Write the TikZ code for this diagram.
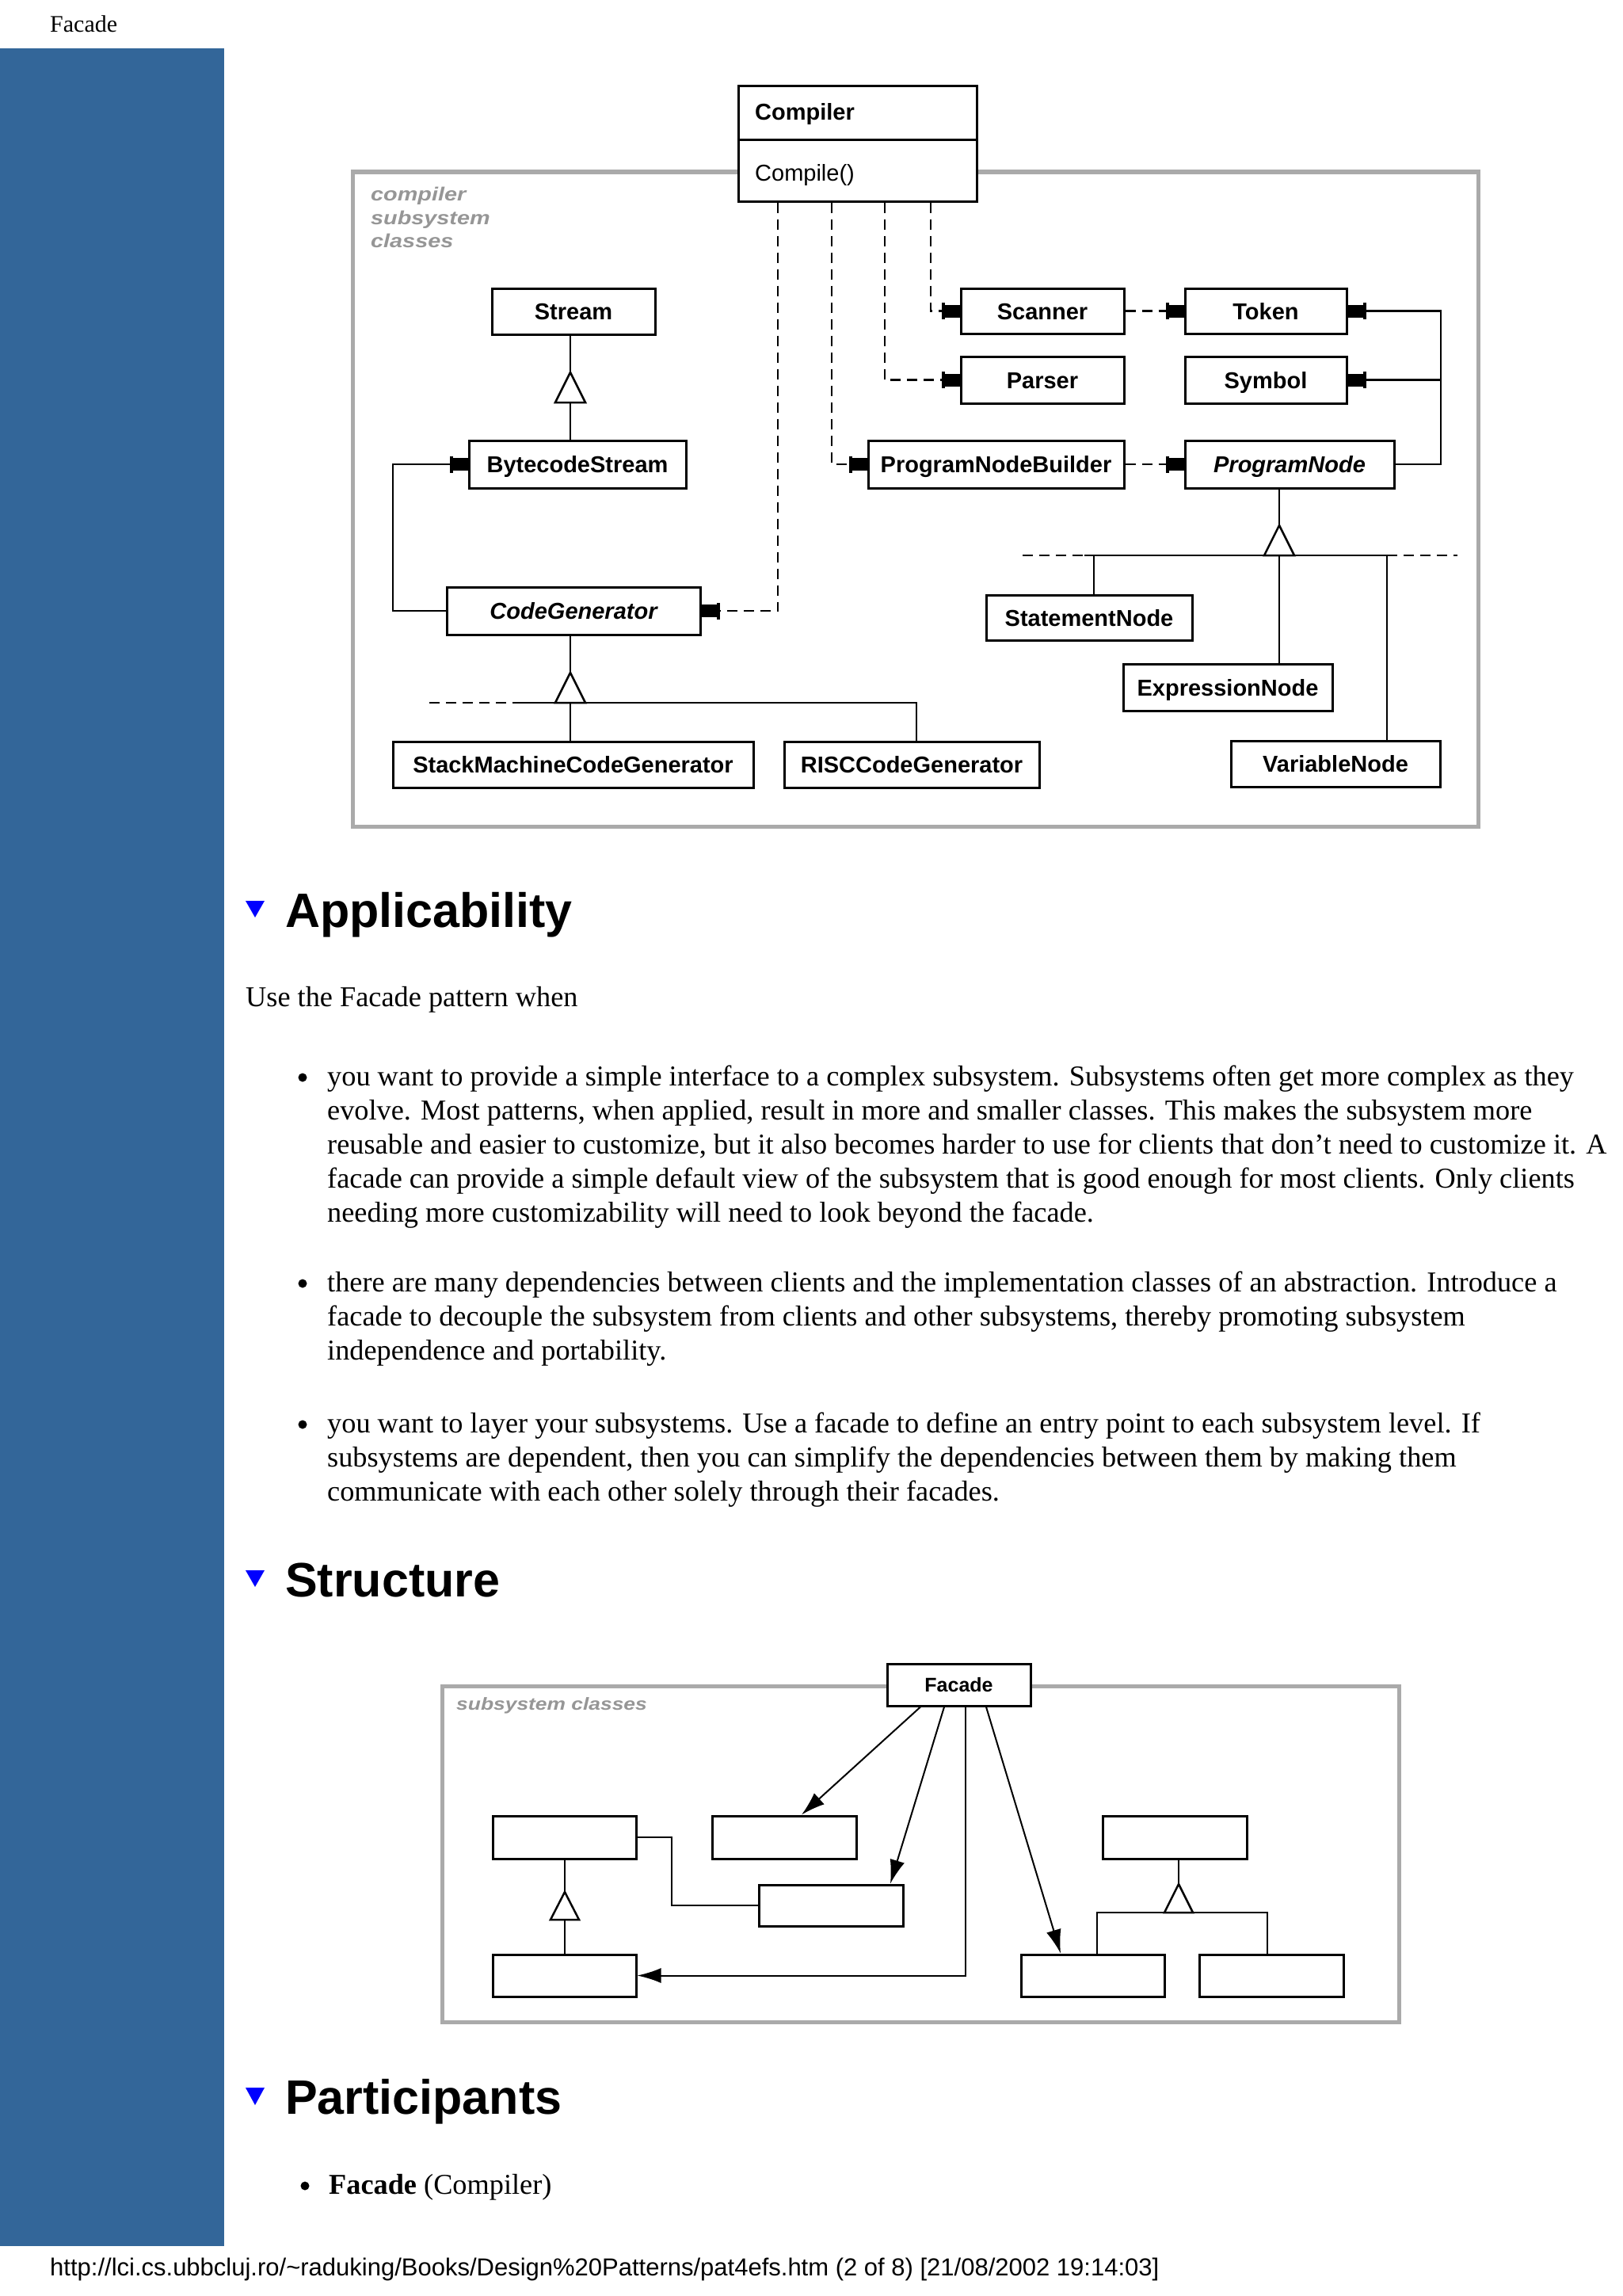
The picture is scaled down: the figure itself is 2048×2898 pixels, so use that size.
\documentclass[tikz,border=0pt]{standalone}
\usepackage{fontspec}
\setmainfont{Liberation Serif}
\newfontfamily\arial{Liberation Sans}
\newfontfamily\graylbl{Liberation Sans}[FakeStretch=1.2]
\usetikzlibrary{arrows.meta}
\definecolor{sidebar}{RGB}{51,102,153}
\definecolor{framegray}{RGB}{170,170,170}
\definecolor{lblgray}{RGB}{150,150,150}
\definecolor{tribl}{RGB}{0,0,255}
\begin{document}
\begin{tikzpicture}[x=1pt,y=-1pt,
  cls/.style={draw, line width=3pt, fill=white, inner sep=0pt, text height=21pt, text depth=0pt, font=\arial\bfseries\fontsize{29}{34}\selectfont},
  icls/.style={cls, font=\arial\bfseries\itshape\fontsize{29}{34}\selectfont},
  sbox/.style={draw, line width=3pt, fill=white, inner sep=0pt},
  ln/.style={line width=2.5pt},
  dep/.style={ln, dash pattern=on 13pt off 8pt},
  plugtip/.style={-{Bar[width=21pt,line width=4pt]Rectangle[length=19pt,width=16pt]}},
  tri/.style={line width=2.5pt, fill=white, line join=miter},
  grayframe/.style={draw=framegray, line width=5pt},
  lbl/.style={font=\graylbl\bfseries\itshape\fontsize{24}{29}\selectfont, text=lblgray, anchor=base west, inner sep=0pt},
  body/.style={font=\fontsize{36.3}{43}\selectfont, anchor=base west, inner sep=0pt},
  heading/.style={font=\arial\bfseries\fontsize{61}{70}\selectfont, anchor=base west, inner sep=0pt},
  bulletdot/.style={circle, fill=black, inner sep=0pt, minimum size=11pt},
  farrow/.style={line width=2pt, -{Latex[length=30pt,width=19pt]}},
]
\useasboundingbox (0,0) rectangle (2048,2898);
\fill[white] (0,0) rectangle (2048,2898);
\fill[sidebar] (0,61) rectangle (283,2835);
\node[anchor=base west, inner sep=0pt, font=\fontsize{30}{36}\selectfont] (hdr) at (63,41) {Facade};

% ---------- compiler subsystem diagram ----------
\draw[grayframe] (445,217) rectangle (1866,1043);
\node[lbl] (lblA) at (468,253) {compiler};
\node[lbl] (lblB) at (468,283) {subsystem};
\node[lbl] (lblC) at (468,312) {classes};

\node[sbox, minimum width=301pt, minimum height=145pt] (compiler) at (1082.5,181.5) {};
\coordinate (cdiv) at (0,177);
\draw[line width=3pt] (compiler.west |- cdiv) -- (compiler.east |- cdiv);
\node[anchor=base west, inner sep=0pt, font=\arial\bfseries\fontsize{29}{34}\selectfont] (compname) at (953,152) {Compiler};
\node[anchor=base west, inner sep=0pt, font=\arial\fontsize{29}{34}\selectfont] (compop) at (953,228) {Compile()};

\node[cls, minimum width=206pt, minimum height=58pt] (stream) at (724,393) {Stream};
\node[cls, minimum width=206pt, minimum height=57pt] (scanner) at (1316,392.5) {Scanner};
\node[cls, minimum width=204pt, minimum height=57pt] (token) at (1598,392.5) {Token};
\node[cls, minimum width=206pt, minimum height=59pt] (parser) at (1316,479.5) {Parser};
\node[cls, minimum width=204pt, minimum height=59pt] (symbol) at (1598,479.5) {Symbol};
\node[cls, minimum width=274pt, minimum height=60pt] (bcs) at (729,586) {BytecodeStream};
\node[cls, minimum width=323pt, minimum height=60pt] (pnb) at (1257.5,586) {ProgramNodeBuilder};
\node[icls, minimum width=264pt, minimum height=60pt] (pn) at (1628,586) {ProgramNode};
\node[icls, minimum width=320pt, minimum height=60pt] (codegen) at (724,771) {CodeGenerator};
\node[cls, minimum width=260pt, minimum height=57pt] (stmt) at (1375,779.5) {StatementNode};
\node[cls, minimum width=264pt, minimum height=59pt] (expr) at (1550,867.5) {ExpressionNode};
\node[cls, minimum width=455pt, minimum height=58pt] (smcg) at (723.5,965) {StackMachineCodeGenerator};
\node[cls, minimum width=322pt, minimum height=58pt] (risc) at (1151,965) {RISCCodeGenerator};
\node[cls, minimum width=264pt, minimum height=58pt] (var) at (1686,964) {VariableNode};

\coordinate (xA) at (982,0);
\coordinate (xB) at (1050,0);
\coordinate (xC) at (1117,0);
\coordinate (xD) at (1175,0);
\coordinate (xR) at (1819,0);
\coordinate (xL) at (496,0);

\draw[dep,plugtip] (compiler.south -| xA) |- (codegen.east);
\draw[dep,plugtip] (compiler.south -| xB) |- (pnb.west);
\draw[dep,plugtip] (compiler.south -| xC) |- (parser.west);
\draw[dep,plugtip] (compiler.south -| xD) |- (scanner.west);
\draw[dep,plugtip] (scanner.east) -- (token.west);
\draw[dep,plugtip] (pnb.east) -- (pn.west);
\draw[ln,plugtip] (pn.east) -| (token.east -| xR) -- (token.east);
\draw[ln,plugtip] (symbol.east -| xR) -- (symbol.east);
\draw[ln,plugtip] (codegen.west) -| (bcs.west -| xL) -- (bcs.west);

% Stream <- BytecodeStream
\coordinate (t1) at (720,470);
\coordinate (t1b) at (720,508);
\draw[ln] (stream.south -| t1) -- (t1);
\draw[ln] (t1b) -- (bcs.north -| t1b);
\draw[tri] (t1) -- ++(-19,38) -- ++(38,0) -- cycle;

% CodeGenerator hierarchy
\coordinate (t2) at (720,849);
\coordinate (t2b) at (720,887);
\coordinate (h2a) at (542,887);
\coordinate (h2b) at (660,887);
\coordinate (h2c) at (1157,887);
\draw[ln] (codegen.south -| t2) -- (t2);
\draw[dep] (h2a) -- (h2b);
\draw[ln] (h2b) -- (h2c) -- (risc.north -| h2c);
\draw[ln] (t2b) -- (smcg.north -| t2b);
\draw[tri] (t2) -- ++(-19,38) -- ++(38,0) -- cycle;

% ProgramNode hierarchy
\coordinate (t3) at (1615,663);
\coordinate (t3b) at (1615,701);
\coordinate (h3a) at (1291,701);
\coordinate (h3b) at (1369,701);
\coordinate (h3c) at (1381,701);
\coordinate (h3d) at (1751,701);
\coordinate (h3e) at (1840,701);
\draw[ln] (pn.south -| t3) -- (t3);
\draw[dep] (h3a) -- (h3b);
\draw[ln] (h3b) -- (h3d);
\draw[dep] (h3d) -- (h3e);
\draw[ln] (h3c) -- (stmt.north -| h3c);
\draw[ln] (t3b) -- (expr.north -| t3b);
\draw[ln] (h3d) -- (var.north -| h3d);
\draw[tri] (t3) -- ++(-19,38) -- ++(38,0) -- cycle;

% ---------- Applicability ----------
\fill[tribl] (310,1137) -- (334,1137) -- (322,1158) -- cycle;
\node[heading] (happ) at (360,1170) {Applicability};
\node[body] (intro) at (310,1270) {Use the Facade pattern when};

\node[bulletdot] (bu1) at (382,1360) {};
\node[body] (p1a) at (413,1370) {you want to provide a simple interface to a complex subsystem. Subsystems often get more complex as they};
\node[body] (p1b) at (413,1413) {evolve. Most patterns, when applied, result in more and smaller classes. This makes the subsystem more};
\node[body] (p1c) at (413,1456) {reusable and easier to customize, but it also becomes harder to use for clients that don't need to customize it. A};
\node[body] (p1d) at (413,1499) {facade can provide a simple default view of the subsystem that is good enough for most clients. Only clients};
\node[body] (p1e) at (413,1542) {needing more customizability will need to look beyond the facade.};

\node[bulletdot] (bu2) at (382,1620) {};
\node[body] (p2a) at (413,1630) {there are many dependencies between clients and the implementation classes of an abstraction. Introduce a};
\node[body] (p2b) at (413,1673) {facade to decouple the subsystem from clients and other subsystems, thereby promoting subsystem};
\node[body] (p2c) at (413,1716) {independence and portability.};

\node[bulletdot] (bu3) at (382,1798) {};
\node[body] (p3a) at (413,1808) {you want to layer your subsystems. Use a facade to define an entry point to each subsystem level. If};
\node[body] (p3b) at (413,1851) {subsystems are dependent, then you can simplify the dependencies between them by making them};
\node[body] (p3c) at (413,1894) {communicate with each other solely through their facades.};

% ---------- Structure ----------
\fill[tribl] (310,1982) -- (334,1982) -- (322,2003) -- cycle;
\node[heading] (hstr) at (360,2015) {Structure};

\draw[grayframe] (558,2128) rectangle (1766,2552);
\node[lbl, font=\graylbl\bfseries\itshape\fontsize{22}{26}\selectfont] (lblS) at (576,2158) {subsystem classes};
\node[sbox, minimum width=181pt, minimum height=53pt, text height=17pt, text depth=0pt, font=\arial\bfseries\fontsize{25}{30}\selectfont] (facade) at (1210.5,2126.5) {Facade};

\node[sbox, minimum width=181pt, minimum height=54pt] (sb1) at (712.5,2319) {};
\node[sbox, minimum width=182pt, minimum height=54pt] (sb2) at (990,2319) {};
\node[sbox, minimum width=182pt, minimum height=52pt] (sb3) at (1049,2405) {};
\node[sbox, minimum width=181pt, minimum height=53pt] (sb4) at (712.5,2493.5) {};
\node[sbox, minimum width=182pt, minimum height=54pt] (sb5) at (1483,2319) {};
\node[sbox, minimum width=181pt, minimum height=53pt] (sb6) at (1379.5,2493.5) {};
\node[sbox, minimum width=182pt, minimum height=53pt] (sb7) at (1605,2493.5) {};

\coordinate (f1) at (1162,0);
\coordinate (f2) at (1192,0);
\coordinate (f3) at (1219,0);
\coordinate (f4) at (1245,0);
\coordinate (e2) at (1012,0);
\coordinate (e3) at (1124,0);
\coordinate (e6) at (1339,0);
\coordinate (xm) at (848,0);
\draw[farrow] (facade.south -| f1) -- (sb2.north -| e2);
\draw[farrow] (facade.south -| f2) -- (sb3.north -| e3);
\draw[farrow] (facade.south -| f3) |- (sb4.east);
\draw[farrow] (facade.south -| f4) -- (sb6.north -| e6);
\draw[ln] (sb1.east) -| (sb3.west -| xm) -- (sb3.west);

\coordinate (s1) at (713,2388);
\coordinate (s1b) at (713,2423);
\draw[ln] (sb1.south -| s1) -- (s1);
\draw[ln] (s1b) -- (sb4.north -| s1b);
\draw[tri] (s1) -- ++(-18,35) -- ++(36,0) -- cycle;

\coordinate (s5) at (1488,2378);
\coordinate (s6) at (1385,2414);
\coordinate (s7) at (1600,2414);
\draw[ln] (sb5.south -| s5) -- (s5);
\draw[ln] (sb6.north -| s6) -- (s6) -- (s7) -- (sb7.north -| s7);
\draw[tri] (s5) -- ++(-18,36) -- ++(36,0) -- cycle;

% ---------- Participants ----------
\fill[tribl] (310,2635) -- (334,2635) -- (322,2657) -- cycle;
\node[heading] (hpart) at (360,2668) {Participants};
\node[bulletdot] (bu4) at (385,2759) {};
\node[body] (part1) at (415,2769) {\bfseries Facade\mdseries\ (Compiler)};

\node[anchor=base west, inner sep=0pt, font=\arial\fontsize{31}{36}\selectfont] (url) at (63,2872) {http://lci.cs.ubbcluj.ro/\textasciitilde{}raduking/Books/Design\%20Patterns/pat4efs.htm (2 of 8) [21/08/2002 19:14:03]};
\end{tikzpicture}
\end{document}
